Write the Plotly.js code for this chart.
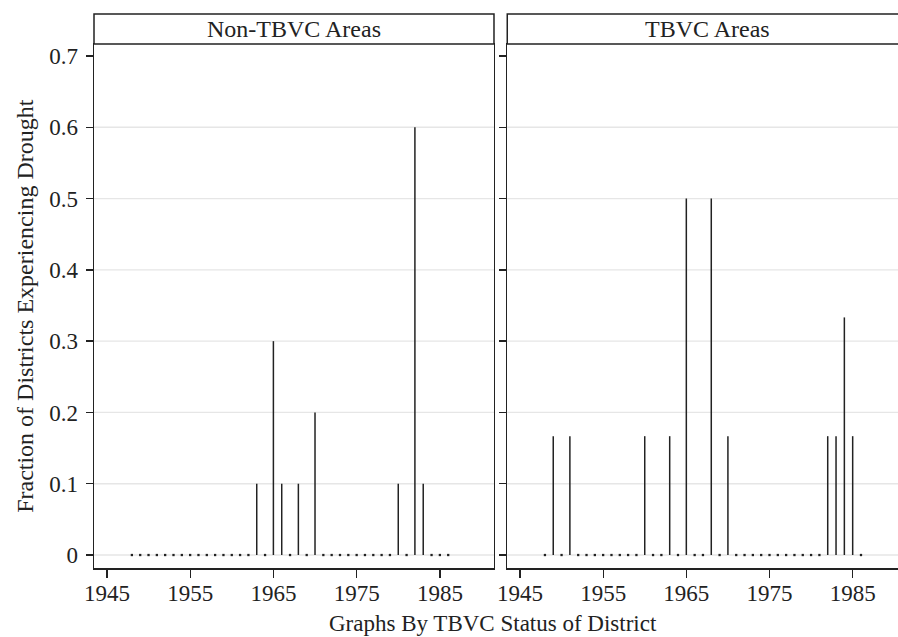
<!DOCTYPE html>
<html><head><meta charset="utf-8">
<script src="https://cdn.plot.ly/plotly-3.0.1.min.js"></script>
<style>html,body{margin:0;padding:0;background:#fff}#chart{width:898px;height:637px}</style>
</head><body><div id="chart"></div>
<script>
// ---- data ----
const years = [1948,1949,1950,1951,1952,1953,1954,1955,1956,1957,1958,1959,1960,
  1961,1962,1963,1964,1965,1966,1967,1968,1969,1970,1971,1972,1973,1974,1975,1976,
  1977,1978,1979,1980,1981,1982,1983,1984,1985,1986];
const nonTBVC = [0,0,0,0,0,0,0,0,0,0,0,0,0,
  0,0,0.1,0,0.3,0.1,0,0.1,0,0.2,0,0,0,0,0,0,
  0,0,0,0.1,0,0.6,0.1,0,0,0];
const tbvc = [0,0.1667,0,0.1667,0,0,0,0,0,0,0,0,0.1667,
  0,0,0.1667,0,0.5,0,0,0.5,0,0.1667,0,0,0,0,0,0,
  0,0,0,0,0,0.1667,0.1667,0.3333,0.1667,0];
const panelTitles = ["Non-TBVC Areas", "TBVC Areas"];
const xTickVals = [1945, 1955, 1965, 1975, 1985];
const yTickVals = [0, 0.1, 0.2, 0.3, 0.4, 0.5, 0.6, 0.7];
const gridVals = [0, 0.1, 0.2, 0.3, 0.4, 0.5, 0.6];
const yTitle = "Fraction of Districts Experiencing Drought";
const xTitle = "Graphs By TBVC Status of District";

// ---- build ----
const FONT = "'Liberation Serif','Times New Roman',serif";
const INK = '#222';
function spikeTrace(xs, ys, xa, ya) {
  const x = [], y = [];
  xs.forEach((v, i) => { if (ys[i] > 0) { x.push(v, v, null); y.push(0, ys[i], null); } });
  return {type:'scatter', mode:'lines', x, y, xaxis:xa, yaxis:ya,
    line:{color:INK, width:1.5}, hoverinfo:'skip', showlegend:false};
}
function zeroTrace(xs, ys, xa, ya) {
  const x = [], y = [];
  xs.forEach((v, i) => { if (ys[i] === 0) { x.push(v); y.push(0); } });
  return {type:'scatter', mode:'markers', x, y, xaxis:xa, yaxis:ya,
    marker:{symbol:'square', size:2.3, color:INK, line:{width:0}}, hoverinfo:'skip', showlegend:false};
}
const traces = [
  spikeTrace(years, nonTBVC, 'x', 'y'), zeroTrace(years, nonTBVC, 'x', 'y'),
  spikeTrace(years, tbvc, 'x2', 'y2'), zeroTrace(years, tbvc, 'x2', 'y2')
];

const shapes = [];
[['x','y'],['x2','y2']].forEach(([xa, ya]) => {
  gridVals.forEach(g => shapes.push({type:'line', xref:xa+' domain', yref:ya, x0:0, x1:1, y0:g, y1:g,
    line:{color:'#e6e6e6', width:1.3}, layer:'below'}));
});
shapes.push({type:'rect', xref:'x domain', yref:'paper', x0:0, x1:1, y0:1, y1:1.0573,
  line:{color:INK, width:1.5}, fillcolor:'#fff'});
shapes.push({type:'rect', xref:'x2 domain', yref:'paper', x0:0, x1:1.05, y0:1, y1:1.0573,
  line:{color:INK, width:1.5}, fillcolor:'#fff'});

const xBase = {range:[1943.45, 1991.5], tickvals:xTickVals, ticks:'outside', ticklen:8, tickwidth:1.3,
  tickcolor:INK, showline:true, mirror:true, linecolor:INK, linewidth:1.5, showgrid:false, zeroline:false,
  ticklabelstandoff:-4, tickfont:{family:FONT, size:23, color:INK}};
const yBase = {range:[-0.0182, 0.7168], tickvals:yTickVals, ticks:'outside', ticklen:7, tickwidth:1.3,
  tickcolor:INK, showline:true, linecolor:INK, linewidth:1.5, showgrid:false, zeroline:false,
  tickfont:{family:FONT, size:23, color:INK}};

const layout = {
  width:898, height:637, margin:{l:94, r:0, t:44, b:69}, paper_bgcolor:'#fff', plot_bgcolor:'#fff',
  showlegend:false, font:{family:FONT, color:INK},
  xaxis: Object.assign({}, xBase, {domain:[0, 0.4975], anchor:'y'}),
  xaxis2: Object.assign({}, xBase, {domain:[0.514, 1], range:[1943.47, 1990.45], anchor:'y2'}),
  yaxis: Object.assign({}, yBase, {domain:[0,1], anchor:'x', mirror:true, ticklabelstandoff:3}),
  yaxis2: Object.assign({}, yBase, {domain:[0,1], anchor:'x2', mirror:false, showticklabels:false}),
  shapes,
  annotations:[
    {text:panelTitles[0], xref:'x domain', yref:'paper', x:0.5, y:1.0286, xanchor:'center', yanchor:'middle',
      showarrow:false, font:{family:FONT, size:24, color:INK}},
    {text:panelTitles[1], xref:'x2 domain', yref:'paper', x:0.512, y:1.0286, xanchor:'center', yanchor:'middle',
      showarrow:false, font:{family:FONT, size:24, color:INK}},
    {text:yTitle, xref:'paper', yref:'paper', x:-0.086, y:0.5, xanchor:'center', yanchor:'middle',
      textangle:-90, showarrow:false, font:{family:FONT, size:24, color:INK}},
    {text:xTitle, xref:'paper', yref:'paper', x:0.496, y:-0.1050, xanchor:'center', yanchor:'middle',
      showarrow:false, font:{family:FONT, size:23, color:INK}}
  ]
};
Plotly.newPlot('chart', traces, layout, {displayModeBar:false, staticPlot:true});
</script></body></html>
